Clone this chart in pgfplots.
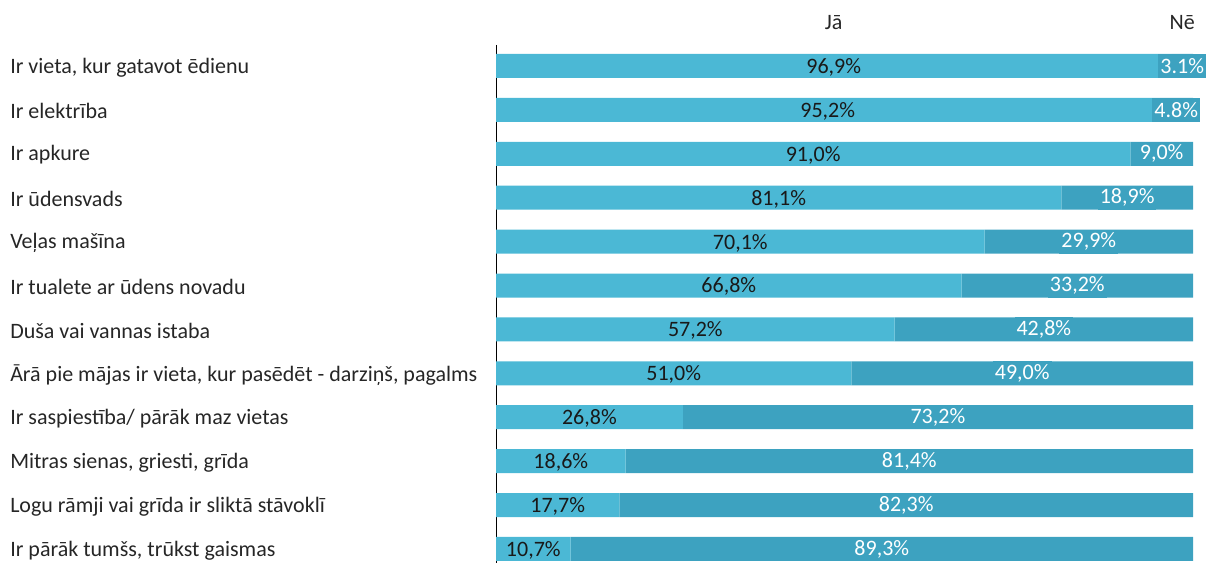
\documentclass[border=0pt]{standalone}
\usepackage{pgfplots}
\pgfplotsset{compat=1.18}
\usepackage{pgfplotstable}
\usepackage{fontspec}
\setmainfont{Carlito}
\definecolor{ja}{HTML}{4BB8D5}
\definecolor{ne}{HTML}{3DA2C0}
\pgfplotstableread{
idx ja ne jal nel
0 96.9 3.1 96,9 3.1
1 95.2 4.8 95,2 4.8
2 91.0 9.0 91,0 9,0
3 81.1 18.9 81,1 18,9
4 70.1 29.9 70,1 29,9
5 66.8 33.2 66,8 33,2
6 57.2 42.8 57,2 42,8
7 51.0 49.0 51,0 49,0
8 26.8 73.2 26,8 73,2
9 18.6 81.4 18,6 81,4
10 17.7 82.3 17,7 82,3
11 10.7 89.3 10,7 89,3
}\data
\newcommand{\lblfont}{\fontsize{16.5}{19}\selectfont}
\begin{document}
\begin{tikzpicture}[x=1pt,y=1pt]
\useasboundingbox (0,0) rectangle (904.5,422.25);
\begin{axis}[
  at={(372pt,0pt)}, anchor=south west,
  scale only axis, width=522.75pt, height=388.5pt,
  xbar stacked, bar width=18pt,
  xmin=0, xmax=100, ymin=-0.478, ymax=11.32,
  y dir=reverse,
  axis x line=none, axis y line*=left,
  y axis line style={black, line width=0.6pt, -},
  ytick={0,...,11}, major tick length=0pt,
  yticklabels={{Ir vieta, kur gatavot ēdienu},{Ir elektrība},{Ir apkure},{Ir ūdensvads},{Veļas mašīna},{Ir tualete ar ūdens novadu},{Duša vai vannas istaba},{Ārā pie mājas ir vieta, kur pasēdēt - darziņš, pagalms},{Ir saspiestība/ pārāk maz vietas},{Mitras sienas, griesti, grīda},{Logu rāmji vai grīda ir sliktā stāvoklī},{Ir pārāk tumšs, trūkst gaismas}},
  yticklabel style={anchor=west, inner sep=0pt, xshift=-364.5pt, yshift=-1pt, font=\lblfont, text=black!85},
  clip=false,
  point meta=explicit symbolic,
  nodes near coords={\pgfplotspointmeta\%},
]
\addplot[fill=ja, draw=none,
  every node near coord/.style={anchor=center, yshift=-1pt, font=\lblfont, text=black!90}]
  table[x=ja, y=idx, meta=jal] {\data};
\addplot[fill=ne, draw=none,
  every node near coord/.style={anchor=center, font=\lblfont, text=white, fill=ne, inner xsep=1.5pt, inner ysep=0pt, minimum height=18pt}]
  table[x=ne, y=idx, meta=nel] {\data};
\node[font=\lblfont, text=black!85] at (axis cs:48.45,-1.0) {Jā};
\node[font=\lblfont, text=black!85] at (axis cs:98.45,-1.0) {Nē};
\end{axis}
\end{tikzpicture}
\end{document}
